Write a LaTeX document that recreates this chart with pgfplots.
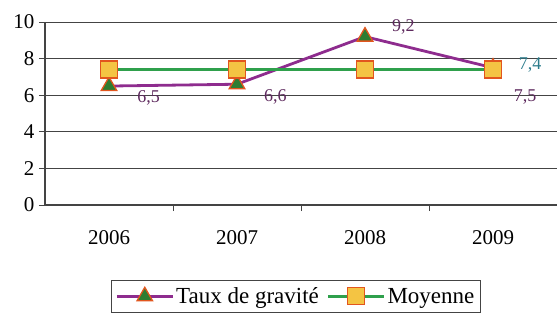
\documentclass[border=0pt]{standalone}
\usepackage{pgfplots}
\pgfplotsset{compat=1.18}
\usepackage{fontspec}
\setmainfont{Liberation Serif}
\definecolor{purp}{HTML}{8E2C8E}
\definecolor{grn}{HTML}{2FA04C}
\definecolor{dgrn}{HTML}{2E7D32}
\definecolor{org}{HTML}{E2561E}
\definecolor{yel}{HTML}{F4C443}
\definecolor{teal2}{HTML}{2C7C8C}
\definecolor{lblp}{HTML}{5E2A5E}
\definecolor{gridc}{HTML}{444444}
\begin{document}
\begin{tikzpicture}[x=1pt,y=1pt]
\clip (0,0) rectangle (560,314);
\begin{axis}[
  at={(45pt,109pt)}, anchor=south west,
  scale only axis, width=512pt, height=183pt,
  xmin=-0.5, xmax=3.5, ymin=0, ymax=10,
  axis x line*=bottom, axis y line*=left,
  axis line style={draw=gridc, line width=1.1pt, -},
  ytick={0,2,...,10},
  ymajorgrids, grid style={draw=gridc, line width=1pt},
  y tick style={draw=gridc, line width=1pt},
  major tick length=6pt, tick align=outside,
  xtick={0,1,2,3}, xticklabels={2006,2007,2008,2009},
  x tick style={draw=none},
  extra x ticks={0.5,1.5,2.5}, extra x tick labels={},
  extra x tick style={x tick style={draw=gridc, line width=1pt}, grid=none},
  tick label style={font=\fontsize{21}{21}\selectfont, text=black},
  xticklabel style={yshift=-16pt},
  yticklabel style={xshift=-1pt},
  /pgf/number format/assume math mode=true,
  legend style={at={(0.49,-0.41)}, anchor=north, legend columns=2,
    draw=gridc, line width=1.1pt, font=\fontsize{23}{24}\selectfont,
    inner xsep=4pt, inner ysep=5pt,
    /tikz/every even column/.append style={column sep=6pt}},
  legend image code/.code={
    \draw[#1, mark repeat=2, mark phase=2] plot coordinates {(0pt,0pt) (28pt,0pt) (56pt,0pt)};},
  clip=false,
]
\addplot[color=purp, line width=2.8pt, mark=triangle*, mark size=9pt,
  mark options={fill=dgrn, draw=org, line width=1.3pt, solid}]
  coordinates {(0,6.5) (1,6.6) (2,9.2) (3,7.5)};
\addlegendentry{Taux de gravité}
\addplot[color=grn, line width=2.6pt, mark=square*, mark size=8.5pt,
  mark options={fill=yel, draw=org, line width=1.3pt, solid}]
  coordinates {(0,7.4) (1,7.4) (2,7.4) (3,7.4)};
\addlegendentry{Moyenne}
\node[text=lblp, font=\fontsize{18}{18}\selectfont] at (axis cs:0.31,5.85) {6,5};
\node[text=lblp, font=\fontsize{18}{18}\selectfont] at (axis cs:1.30,5.9) {6,6};
\node[text=lblp, font=\fontsize{18}{18}\selectfont] at (axis cs:2.30,9.73) {9,2};
\node[text=teal2, font=\fontsize{18}{18}\selectfont] at (axis cs:3.29,7.65) {7,4};
\node[text=lblp, font=\fontsize{18}{18}\selectfont] at (axis cs:3.25,5.9) {7,5};
\end{axis}
\end{tikzpicture}
\end{document}
